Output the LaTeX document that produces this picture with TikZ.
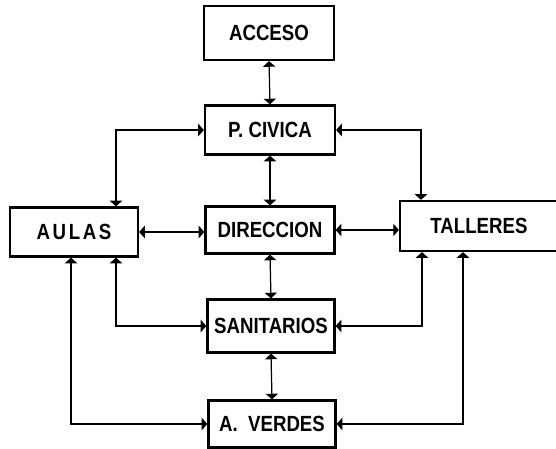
\documentclass[tikz,border=0pt]{standalone}
\usepackage{fontspec}
\newfontfamily\boxfont[FakeStretch=0.85]{Liberation Sans}
\usetikzlibrary{arrows.meta}
\begin{document}
\begin{tikzpicture}[x=0.02cm,y=-0.02cm,
  area/.style={draw,line width=1.3pt,inner sep=0pt,font=\boxfont\bfseries\fontsize{12.5}{14}\selectfont},
  link/.style={line width=0.7pt,{Triangle[width=7pt,length=3.2pt]}-{Triangle[width=7pt,length=3.2pt]}}]
  \useasboundingbox (0,0) rectangle (556,449);
  \foreach \name/\x/\y/\w/\h/\txt in {acceso/269/33/2.6/1.08/ACCESO, civica/270/130/2.6/0.98/P. CIVICA,
      direccion/270/230/2.58/0.94/DIRECCION, aulas/74/232/2.56/0.98/A\kern1.5pt U\kern1.5pt L\kern1.5pt A\kern1.5pt S,
      talleres/479/226/3.16/1.0/TALLERES\hspace{0.5cm}, sanitarios/271/326/2.54/1.06/SANITARIOS,
      verdes/272/424/2.54/0.94/A.\ \ VERDES} {
    \node[area,minimum width=\w cm,minimum height=\h cm] (\name) at (\x,\y) {\txt};
  }
  \draw[link] (acceso.south) -- (civica.north);
  \draw[link] (civica.south) -- (direccion.north);
  \draw[link] (direccion.south) -- (sanitarios.north);
  \draw[link] (sanitarios.south) -- (verdes.north);
  \draw[link] (civica.west) -| ([xshift=0.84cm]aulas.north);
  \draw[link] (civica.east) -| ([xshift=-1.16cm]talleres.north);
  \draw[link] (aulas.east) -- (aulas.east -| direccion.west);
  \draw[link] (direccion.east) -- (direccion.east -| talleres.west);
  \draw[link] ([xshift=0.84cm]aulas.south) |- (sanitarios.west);
  \draw[link] ([xshift=-1.14cm]talleres.south) |- (sanitarios.east);
  \draw[link] ([xshift=-0.06cm]aulas.south) |- (verdes.west);
  \draw[link] ([xshift=-0.32cm]talleres.south) |- (verdes.east);
\end{tikzpicture}
\end{document}
